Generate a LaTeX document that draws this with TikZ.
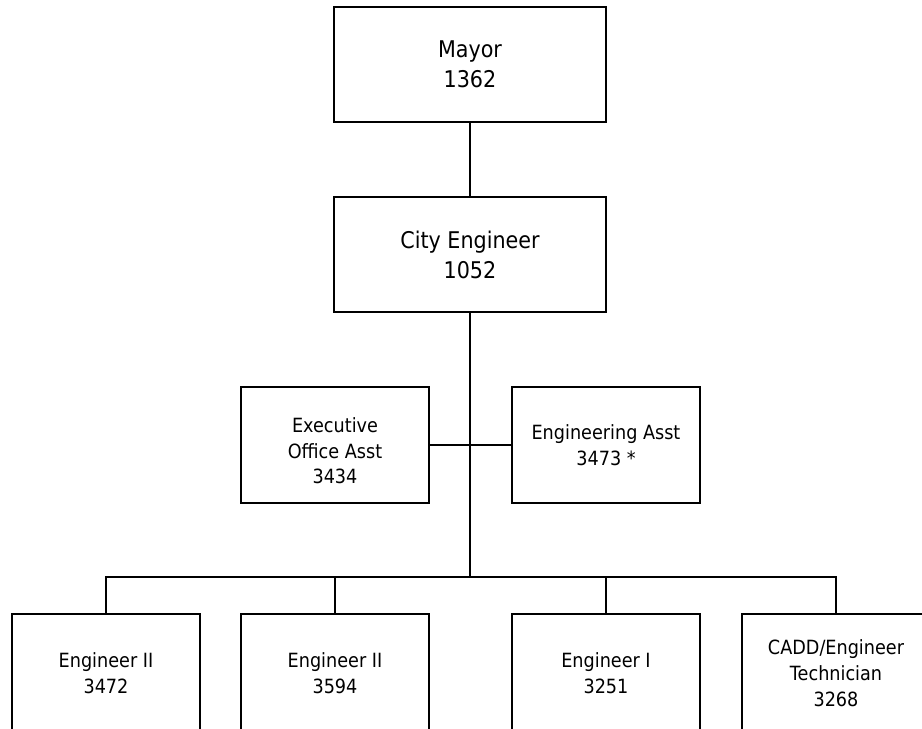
\documentclass[tikz,border=0pt]{standalone}
\usepackage{fontspec}
\setmainfont{DejaVu Sans}[FakeStretch=0.9]
\begin{document}
\begin{tikzpicture}[x=1pt,y=1pt,
  line width=2pt,
  bigbox/.style={draw=black, rectangle, minimum width=272pt, minimum height=115pt, inner sep=0pt, align=center, font=\fontsize{23}{30}\selectfont},
  midbox/.style={draw=black, rectangle, minimum width=188pt, minimum height=116pt, inner sep=0pt, align=center, font=\fontsize{19.6}{26}\selectfont},
  lowbox/.style={draw=black, rectangle, minimum width=188pt, minimum height=118pt, inner sep=0pt, align=center, font=\fontsize{19.6}{26}\selectfont},
  txt/.style={align=center, inner sep=0pt, font=\fontsize{19.6}{25.5}\selectfont}]
\useasboundingbox (0,0) rectangle (922,-729);
\clip (0,0) rectangle (922,-729);
\fill[white] (0,0) rectangle (922,-729);

\node[bigbox] (mayor) at (470,-64.5) {Mayor\\1362};
\node[bigbox] (city) at (470,-254.5) {City Engineer\\1052};

\node[midbox] (exec) at (335,-445) {};
\node[txt] (exectext) at (335,-451) {Executive\\Office Asst\\3434};
\node[midbox] (easst) at (606,-445) {Engineering Asst\\3473 *};

\node[lowbox] (e1) at (106,-673) {Engineer II\\3472};
\node[lowbox] (e2) at (335,-673) {Engineer II\\3594};
\node[lowbox] (e3) at (606,-673) {Engineer I\\3251};
\node[lowbox] (e4) at (836,-673) {CADD/Engineer\\Technician\\3268};

\coordinate (bus) at (470,-577);

\draw (mayor.south) -- (city.north);
\draw (city.south) -- (bus);
\draw (exec.east) -- (easst.west);
\draw (e1.north) -- (e1.north |- bus) -- (e4.north |- bus) -- (e4.north);
\draw (e2.north) -- (e2.north |- bus);
\draw (e3.north) -- (e3.north |- bus);
\end{tikzpicture}
\end{document}
